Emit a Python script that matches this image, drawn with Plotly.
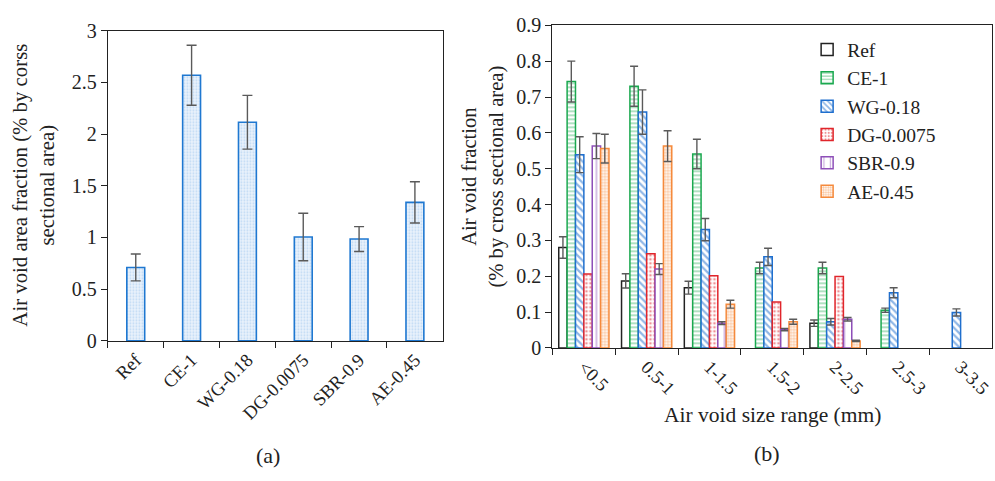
import plotly.graph_objects as go

# ---- Data: panel (a) ----
mixes = ["Ref", "CE-1", "WG-0.18", "DG-0.0075", "SBR-0.9", "AE-0.45"]
total_void = [0.71, 2.57, 2.115, 1.005, 0.985, 1.34]
total_err = [0.13, 0.29, 0.26, 0.23, 0.12, 0.20]

# ---- Data: panel (b) ----
size_ranges = ["<0.5", "0.5-1", "1-1.5", "1.5-2", "2-2.5", "2.5-3", "3-3.5"]
ref_vals = [0.28, 0.187, 0.168, None, 0.069, None, None]
ref_err = [0.03, 0.02, 0.018, 0, 0.009, 0, 0]
ce_vals = [0.743, 0.73, 0.541, 0.223, 0.223, 0.105, None]
ce_err = [0.057, 0.056, 0.041, 0.016, 0.016, 0.006, 0]
wg_vals = [0.539, 0.658, 0.33, 0.254, 0.073, 0.154, 0.099]
wg_err = [0.05, 0.062, 0.031, 0.024, 0.009, 0.014, 0.01]
dg_vals = [0.206, 0.263, 0.201, 0.128, 0.199, None, None]
sbr_vals = [0.563, 0.22, 0.069, 0.051, 0.08, None, None]
sbr_err = [0.035, 0.015, 0.004, 0.003, 0.005, 0, 0]
ae_vals = [0.556, 0.563, 0.122, 0.073, 0.0195, None, None]
ae_err = [0.04, 0.043, 0.011, 0.007, 0.002, 0, 0]

FONT = "Liberation Serif"
ERRC = "#5a5a5a"

fig = go.Figure()

# Panel (a)
fig.add_trace(go.Bar(
    x=mixes, y=total_void, xaxis="x", yaxis="y", showlegend=False, width=0.32,
    marker=dict(color="#e8f2fc", line=dict(color="#1f78d1", width=1.6),
                pattern=dict(shape=".", fgcolor="#8fbbe8", bgcolor="#eaf3fc", size=3, solidity=0.3)),
    error_y=dict(type="data", array=total_err, color=ERRC, thickness=1.4, width=5),
))

series = [
    ("Ref", ref_vals, ref_err, "#222222", "", 5, 0.3),
    ("CE-1", ce_vals, ce_err, "#1aa84f", "-", 4, 0.35),
    ("WG-0.18", wg_vals, wg_err, "#1f6fce", "\\", 5, 0.45),
    ("DG-0.0075", dg_vals, None, "#e0252b", ".", 4, 0.35),
    ("SBR-0.9", sbr_vals, sbr_err, "#8e4fb8", "|", 8, 0.18),
    ("AE-0.45", ae_vals, ae_err, "#f58a3c", ".", 3, 0.5),
]
for name, vals, err, col, shape, psize, sol in series:
    marker = dict(color="white", line=dict(color=col, width=1.5))
    if shape:
        marker["pattern"] = dict(shape=shape, fgcolor=col, bgcolor="white", size=psize, solidity=sol)
    kw = {}
    if err is not None:
        kw["error_y"] = dict(type="data", array=err, color=ERRC, thickness=1.4, width=4)
    fig.add_trace(go.Bar(x=size_ranges, y=vals, name=name, xaxis="x2", yaxis="y2",
                         marker=marker, **kw))

axis_common = dict(showline=True, linecolor="#222222", linewidth=1.3, mirror=True,
                   ticks="outside", ticklen=6, tickcolor="#222222", showgrid=False,
                   zeroline=False)
xfont = dict(family=FONT, size=18.5, color="#222222")
yfont = dict(family=FONT, size=20, color="#222222")

fig.update_layout(
    width=995, height=481,
    margin=dict(l=0, r=0, t=0, b=0),
    paper_bgcolor="white", plot_bgcolor="white",
    font=dict(family=FONT, color="#222222"),
    barmode="group", bargap=0.2, bargroupgap=0,
    xaxis=dict(domain=[0.1085, 0.4455], anchor="y", tickangle=-45, tickson="boundaries",
               tickfont=xfont, **axis_common),
    yaxis=dict(domain=[0.2813, 0.957], anchor="x", range=[0, 3], dtick=0.5,
               tickfont=yfont, **axis_common),
    xaxis2=dict(domain=[0.5558, 0.998], anchor="y2", tickangle=45, tickson="boundaries",
                tickfont=xfont, **axis_common),
    yaxis2=dict(domain=[0.266, 0.9688], anchor="x2", range=[0, 0.9], dtick=0.1,
                tickfont=yfont, **axis_common),
    legend=dict(x=0.812, y=0.958, xanchor="left", yanchor="top", bgcolor="rgba(0,0,0,0)",
                font=dict(family=FONT, size=19.5, color="#222222"), tracegroupgap=0),
    annotations=[
        dict(text="Air void area fraction (% by corss<br>sectional area)", x=34 / 995, y=1 - 182 / 481,
             xref="paper", yref="paper", textangle=-90, showarrow=False,
             font=dict(family=FONT, size=20.8), xanchor="center", yanchor="middle"),
        dict(text="Air void fraction<br>(% by cross sectional area)", x=484 / 995, y=1 - 174 / 481,
             xref="paper", yref="paper", textangle=-90, showarrow=False,
             font=dict(family=FONT, size=20.6), xanchor="center", yanchor="middle"),
        dict(text="Air void size range (mm)", x=773 / 995, y=1 - 423 / 481, xref="paper", yref="paper",
             showarrow=False, font=dict(family=FONT, size=21.5), xanchor="center", yanchor="middle"),
        dict(text="(a)", x=268 / 995, y=1 - 466 / 481, xref="paper", yref="paper",
             showarrow=False, font=dict(family=FONT, size=22), xanchor="center", yanchor="middle"),
        dict(text="(b)", x=768 / 995, y=1 - 464 / 481, xref="paper", yref="paper",
             showarrow=False, font=dict(family=FONT, size=22), xanchor="center", yanchor="middle"),
    ],
)

fig.write_html("out.html")
